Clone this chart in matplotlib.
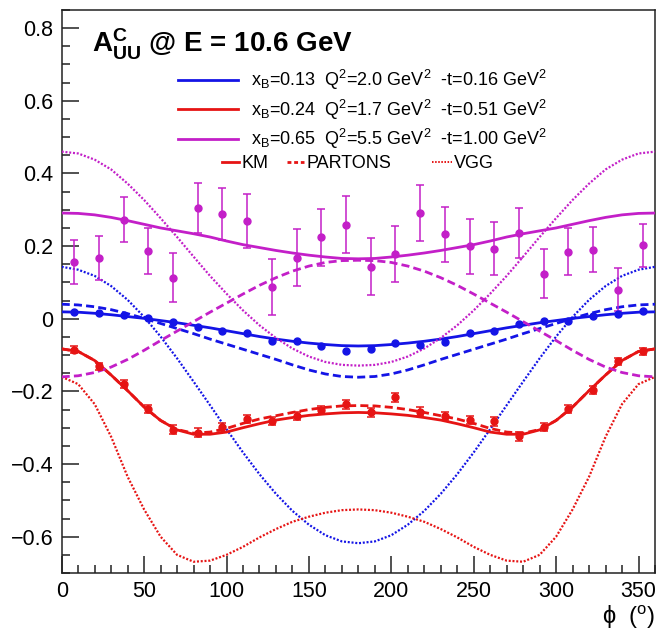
import matplotlib
matplotlib.use('Agg')
import matplotlib.pyplot as plt
from matplotlib.lines import Line2D
from matplotlib.ticker import MultipleLocator

plt.rcParams['font.family'] = ['Liberation Sans', 'DejaVu Sans']
plt.rcParams['mathtext.fontset'] = 'custom'
plt.rcParams['mathtext.rm'] = 'Liberation Sans'
plt.rcParams['mathtext.it'] = 'Liberation Sans:italic'
plt.rcParams['mathtext.bf'] = 'Liberation Sans:bold'

# ---------------- data ----------------
phi_bins = [7.5, 22.5, 37.5, 52.5, 67.5, 82.5, 97.5, 112.5, 127.5, 142.5, 157.5, 172.5,
            187.5, 202.5, 217.5, 232.5, 247.5, 262.5, 277.5, 292.5, 307.5, 322.5, 337.5, 352.5]

blue_data = [0.018, 0.016, 0.011, 0.002, -0.009, -0.023, -0.035, -0.039, -0.061, -0.061, -0.075, -0.088,
             -0.084, -0.067, -0.072, -0.064, -0.040, -0.035, -0.015, -0.007, -0.005, 0.007, 0.013, 0.020]
blue_err = [0.004] * 24

red_data = [-0.085, -0.131, -0.179, -0.249, -0.305, -0.314, -0.299, -0.277, -0.282, -0.269, -0.251, -0.236,
            -0.258, -0.216, -0.256, -0.267, -0.279, -0.282, -0.324, -0.297, -0.248, -0.196, -0.117, -0.090]
red_err = [0.010, 0.010, 0.011, 0.011, 0.012, 0.012, 0.012, 0.011, 0.011, 0.011, 0.012, 0.012,
           0.012, 0.012, 0.012, 0.011, 0.012, 0.012, 0.012, 0.011, 0.011, 0.010, 0.010, 0.010]

mag_data = [0.156, 0.167, 0.273, 0.186, 0.113, 0.305, 0.288, 0.269, 0.088, 0.168, 0.224, 0.259,
            0.143, 0.178, 0.290, 0.232, 0.199, 0.193, 0.236, 0.124, 0.185, 0.190, 0.080, 0.202]
mag_err = [0.060, 0.060, 0.062, 0.064, 0.067, 0.070, 0.072, 0.074, 0.077, 0.078, 0.079, 0.079,
           0.079, 0.078, 0.077, 0.077, 0.075, 0.073, 0.070, 0.067, 0.065, 0.062, 0.060, 0.060]

phi_curve = [0, 10, 20, 30, 40, 50, 60, 70, 80, 90, 100, 110, 120, 130, 140, 150, 160, 170, 180,
             190, 200, 210, 220, 230, 240, 250, 260, 270, 280, 290, 300, 310, 320, 330, 340, 350, 360]

blue_km = [0.019, 0.018, 0.015, 0.011, 0.006, 0.001, -0.005, -0.011, -0.018, -0.025, -0.033, -0.041,
           -0.049, -0.056, -0.062, -0.067, -0.071, -0.074, -0.075, -0.074, -0.071, -0.067, -0.062,
           -0.056, -0.049, -0.041, -0.033, -0.025, -0.018, -0.011, -0.005, 0.001, 0.006, 0.011,
           0.015, 0.018, 0.019]
blue_partons = [0.040, 0.038, 0.033, 0.025, 0.014, 0.001, -0.013, -0.027, -0.041, -0.056, -0.070,
                -0.084, -0.098, -0.112, -0.127, -0.141, -0.152, -0.159, -0.161, -0.159, -0.152,
                -0.141, -0.127, -0.112, -0.098, -0.084, -0.070, -0.056, -0.041, -0.027, -0.013,
                0.001, 0.014, 0.025, 0.033, 0.038, 0.040]
blue_vgg = [0.143, 0.135, 0.118, 0.090, 0.052, 0.005, -0.049, -0.109, -0.173, -0.238, -0.304, -0.368,
            -0.428, -0.482, -0.529, -0.567, -0.596, -0.613, -0.618, -0.613, -0.596, -0.567, -0.529,
            -0.482, -0.428, -0.368, -0.304, -0.238, -0.173, -0.109, -0.049, 0.005, 0.052, 0.090,
            0.118, 0.135, 0.143]

red_km = [-0.083, -0.090, -0.115, -0.155, -0.198, -0.243, -0.280, -0.306, -0.318, -0.318, -0.312,
          -0.300, -0.289, -0.279, -0.272, -0.266, -0.262, -0.259, -0.258, -0.259, -0.262, -0.266,
          -0.272, -0.279, -0.289, -0.300, -0.312, -0.318, -0.318, -0.306, -0.280, -0.243, -0.198,
          -0.155, -0.115, -0.090, -0.083]
red_partons = [-0.083, -0.090, -0.115, -0.155, -0.198, -0.243, -0.280, -0.305, -0.315, -0.312, -0.302,
               -0.288, -0.276, -0.267, -0.258, -0.250, -0.244, -0.240, -0.239, -0.240, -0.244, -0.250,
               -0.258, -0.267, -0.276, -0.288, -0.302, -0.312, -0.315, -0.305, -0.280, -0.243, -0.198,
               -0.155, -0.115, -0.090, -0.083]
red_vgg = [-0.160, -0.180, -0.235, -0.325, -0.435, -0.525, -0.600, -0.650, -0.669, -0.666, -0.650,
           -0.628, -0.602, -0.579, -0.559, -0.545, -0.534, -0.527, -0.525, -0.527, -0.534, -0.545,
           -0.559, -0.579, -0.602, -0.628, -0.650, -0.666, -0.669, -0.650, -0.600, -0.525, -0.435,
           -0.325, -0.235, -0.180, -0.160]

mag_km = [0.291, 0.290, 0.286, 0.279, 0.270, 0.260, 0.250, 0.242, 0.234, 0.225, 0.214, 0.204, 0.196,
          0.188, 0.181, 0.175, 0.170, 0.166, 0.165, 0.166, 0.170, 0.175, 0.181, 0.188, 0.196, 0.204,
          0.214, 0.225, 0.234, 0.242, 0.250, 0.260, 0.270, 0.279, 0.286, 0.290, 0.291]
mag_partons = [-0.160, -0.157, -0.148, -0.133, -0.112, -0.087, -0.060, -0.034, -0.008, 0.018, 0.043,
               0.068, 0.092, 0.113, 0.131, 0.145, 0.155, 0.160, 0.161, 0.160, 0.155, 0.145, 0.131,
               0.113, 0.092, 0.068, 0.043, 0.018, -0.008, -0.034, -0.060, -0.087, -0.112, -0.133,
               -0.148, -0.157, -0.160]
mag_vgg = [0.460, 0.455, 0.438, 0.411, 0.372, 0.327, 0.277, 0.225, 0.171, 0.118, 0.069, 0.023, -0.018,
           -0.053, -0.082, -0.104, -0.119, -0.127, -0.129, -0.127, -0.119, -0.104, -0.082, -0.053,
           -0.018, 0.023, 0.069, 0.118, 0.171, 0.225, 0.277, 0.327, 0.372, 0.411, 0.438, 0.455, 0.460]

legend_labels = [r'x$_{\mathrm{B}}$=0.13  Q$^{2}$=2.0 GeV$^{2}$  -t=0.16 GeV$^{2}$',
                 r'x$_{\mathrm{B}}$=0.24  Q$^{2}$=1.7 GeV$^{2}$  -t=0.51 GeV$^{2}$',
                 r'x$_{\mathrm{B}}$=0.65  Q$^{2}$=5.5 GeV$^{2}$  -t=1.00 GeV$^{2}$']
model_labels = ['KM', 'PARTONS', 'VGG']
y_ticks = [-0.6, -0.4, -0.2, 0.0, 0.2, 0.4, 0.6, 0.8]
y_tick_labels = ['\u22120.6', '\u22120.4', '\u22120.2', '0', '0.2', '0.4', '0.6', '0.8']
x_ticks = [0, 50, 100, 150, 200, 250, 300, 350]

# ---------------- style ----------------
BLUE = '#1414e6'
RED = '#e61414'
MAG = '#c31fc8'
LW = 2.0
DASH = (2.9, 1.5)
DOT = (0.9, 0.8)

fig = plt.figure(figsize=(6.56, 6.34), dpi=100)
ax = fig.add_axes([61.7 / 656, 61 / 634, 593.3 / 656, 563 / 634])
ax.set_xlim(0, 360)
ax.set_ylim(-0.7, 0.85)

for col, km, pa, vg in [(BLUE, blue_km, blue_partons, blue_vgg),
                        (RED, red_km, red_partons, red_vgg),
                        (MAG, mag_km, mag_partons, mag_vgg)]:
    ax.plot(phi_curve, km, color=col, lw=LW, solid_capstyle='butt', zorder=3)
    ax.plot(phi_curve, pa, color=col, lw=LW, dashes=DASH, zorder=3)
    ax.plot(phi_curve, vg, color=col, lw=1.6, dashes=DOT, zorder=3)

ax.errorbar(phi_bins, mag_data, yerr=mag_err, fmt='o', color=MAG, ms=5, elinewidth=1.1,
            capsize=3, capthick=1.1, zorder=4)
ax.errorbar(phi_bins, red_data, yerr=red_err, fmt='o', color=RED, ms=5, elinewidth=1.1,
            capsize=3, capthick=1.1, zorder=4)
ax.errorbar(phi_bins, blue_data, yerr=blue_err, fmt='o', color=BLUE, ms=5, elinewidth=1.1,
            capsize=0, zorder=4)

# axes styling
for s in ax.spines.values():
    s.set_linewidth(1.1)
    s.set_color('#222222')
ax.set_yticks(y_ticks)
ax.set_yticklabels(y_tick_labels)
ax.set_xticks(x_ticks)
ax.set_xticklabels([str(v) for v in x_ticks])
ax.xaxis.set_minor_locator(MultipleLocator(10))
ax.yaxis.set_minor_locator(MultipleLocator(0.05))
ax.tick_params(which='major', direction='in', length=12.5, width=1.1, labelsize=15.5,
               top=False, right=False, pad=6, color='#222222')
ax.tick_params(which='minor', direction='in', length=6, width=1.1,
               top=False, right=False, color='#222222')

# legends
FS = 13
h1 = [Line2D([], [], color=c, lw=LW) for c in (BLUE, RED, MAG)]
leg1 = ax.legend(h1, legend_labels, loc='upper left', bbox_to_anchor=(178.3 / 656, (634 - 68) / 634),
                 bbox_transform=fig.transFigure, frameon=False, fontsize=FS, handlelength=3.3,
                 handletextpad=0.75, borderpad=0, borderaxespad=0, labelspacing=0.3)
ax.add_artist(leg1)
h2 = [Line2D([], [], color=RED, lw=LW), Line2D([], [], color=RED, lw=LW, dashes=(1.4, 1.0))]
leg2 = ax.legend(h2, model_labels[:2], loc='upper left', bbox_to_anchor=(221.7 / 656, (634 - 155) / 634),
                 bbox_transform=fig.transFigure, frameon=False, fontsize=FS, ncol=2,
                 handlelength=0.95, handletextpad=0.15, columnspacing=1.0, borderpad=0, borderaxespad=0)
ax.add_artist(leg2)
h3 = [Line2D([], [], color=RED, lw=1.4, dashes=(0.8, 0.8))]
ax.legend(h3, model_labels[2:], loc='upper left', bbox_to_anchor=(431.7 / 656, (634 - 155) / 634),
          bbox_transform=fig.transFigure, frameon=False, fontsize=FS,
          handlelength=1.1, handletextpad=0.15, borderpad=0, borderaxespad=0)

# title
fig.text(91.7 / 656, (634 - 52) / 634, r'$\mathbf{A^{C}_{UU}}$ @ E = 10.6 GeV', fontsize=20,
         fontweight='bold', ha='left', va='baseline')

# axis label
fig.text(655 / 656, (634 - 624) / 634, '\u03d5  ($^{\\mathrm{o}}$)', fontsize=17, ha='right',
         va='baseline')

fig.savefig('out.png', dpi=100)
